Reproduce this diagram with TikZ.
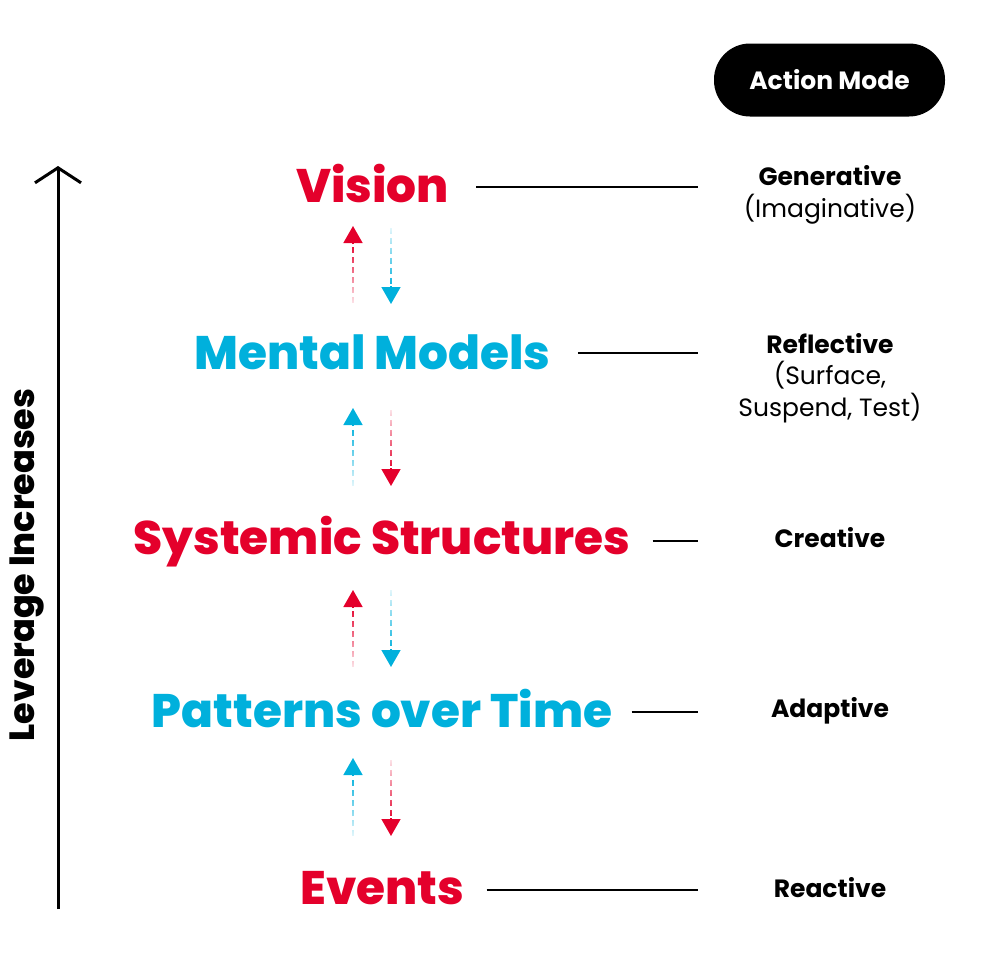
\documentclass[tikz,border=0pt]{standalone}
\usepackage{fontspec}
\setmainfont{Poppins}
\newfontfamily\heavy{Poppins ExtraBold}
\usetikzlibrary{arrows.meta,fadings,calc}
\definecolor{ired}{RGB}{228,0,43}
\definecolor{iblue}{RGB}{0,176,220}
\tikzfading[name=fadeN, top color=transparent!0, bottom color=transparent!90]
\tikzfading[name=fadeS, top color=transparent!90, bottom color=transparent!0]
\tikzset{
  lvl/.style={font=\fontsize{47}{50}\heavy, inner sep=0pt, anchor=base},
  mode/.style={font=\fontsize{25}{31.5}\selectfont, align=center, inner sep=0pt, anchor=center},
  hline/.style={line width=2pt, black},
  dash line/.style={line width=1.6pt, dash pattern=on 6pt off 4pt},
  head/.style={line width=1.6pt, -{Triangle[length=17pt,width=19pt]}},
  upfade/.style={path fading=fadeN},
  downfade/.style={path fading=fadeS}
}
\begin{document}
\begin{tikzpicture}[x=1pt,y=-1pt]
\useasboundingbox (0,0) rectangle (980,980);
% Action Mode box
\node[fill=black, rounded corners=36pt, minimum width=231pt, minimum height=73pt, inner sep=0pt,
      text=white, font=\fontsize{25}{28}\selectfont\bfseries] (am) at (829.5,80) {Action Mode};
% levels
\node[lvl, text=ired]  (vision)  at (372.5,202) {Vision};
\node[lvl, text=iblue] (mental)  at (372.5,369) {Mental Models};
\node[lvl, text=ired]  (sys)     at (382,554) {Systemic Structures};
\node[lvl, text=iblue] (pat)     at (382,727) {Patterns over Time};
\node[lvl, text=ired]  (events)  at (382.5,904) {Events};
% line ends
\coordinate (e1) at (698,187);
\coordinate (e2) at (698,353);
\coordinate (e3) at (698,541);
\coordinate (e4) at (698,712);
\coordinate (e5) at (698,890);
\draw[hline] ($(vision.east |- e1)+(27,0)$) -- (e1);
\draw[hline] ($(mental.east |- e2)+(27,0)$) -- (e2);
\draw[hline] ($(sys.east |- e3)+(22,0)$) -- (e3);
\draw[hline] ($(pat.east |- e4)+(19,0)$) -- (e4);
\draw[hline] ($(events.east |- e5)+(22,0)$) -- (e5);
% modes
\node[mode] (gen) at (830,195) {\textbf{Generative}\\(Imaginative)};
\node[mode] (ref) at (830,378) {\textbf{Reflective}\\(Surface,\\Suspend, Test)};
\node[mode] (cre) at (830,538) {\textbf{Creative}};
\node[mode] (ada) at (830,711) {\textbf{Adaptive}};
\node[mode] (rea) at (830,888) {\textbf{Reactive}};
% dashed arrows: (start) -> (tip)
\coordinate (a1s) at (353,303); \coordinate (a1e) at (353,226);
\coordinate (b1s) at (391,228); \coordinate (b1e) at (391,304);
\coordinate (a2s) at (353,486); \coordinate (a2e) at (353,408);
\coordinate (b2s) at (391,410); \coordinate (b2e) at (391,486);
\coordinate (a3s) at (353,667); \coordinate (a3e) at (353,590);
\coordinate (b3s) at (391,590); \coordinate (b3e) at (391,667);
\coordinate (a4s) at (353,836); \coordinate (a4e) at (353,758);
\coordinate (b4s) at (391,760); \coordinate (b4e) at (391,836);
% up arrows
\foreach \s/\e/\c in {a1s/a1e/ired, a2s/a2e/iblue, a3s/a3e/ired, a4s/a4e/iblue}{
  \draw[dash line, \c, upfade] (\s) -- ($(\e)+(0,16)$);
  \draw[head, \c] ($(\e)+(0,18)$) -- (\e);
}
% down arrows
\foreach \s/\e/\c in {b1s/b1e/iblue, b2s/b2e/ired, b3s/b3e/iblue, b4s/b4e/ired}{
  \draw[dash line, \c, downfade] (\s) -- ($(\e)+(0,-16)$);
  \draw[head, \c] ($(\e)+(0,-18)$) -- (\e);
}
% leverage axis
\coordinate (ax0) at (58,909);
\coordinate (ax1) at (58,166);
\draw[line width=3pt, -{Straight Barb[length=15pt,width=46pt,line width=3pt]}] (ax0) -- (ax1);
\node[rotate=90, inner sep=0pt, font=\fontsize{35}{38}\heavy] (lev) at (27,565) {Leverage Increases};
\end{tikzpicture}
\end{document}
